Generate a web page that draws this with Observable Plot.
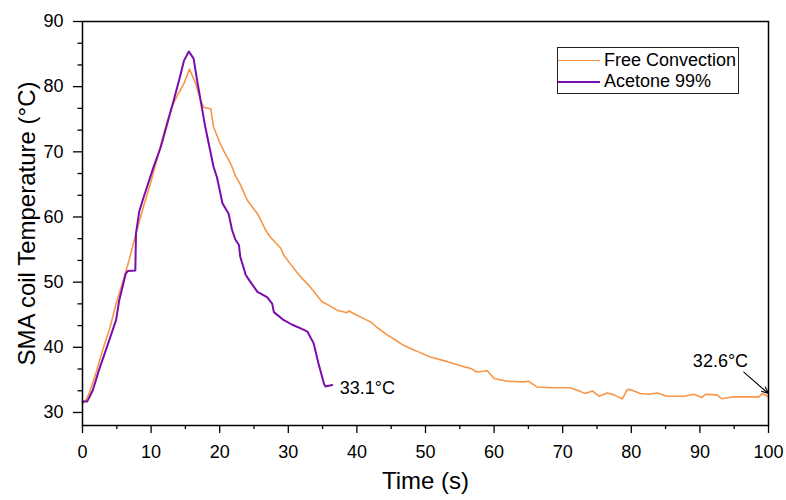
<!DOCTYPE html>
<html>
<head>
<meta charset="utf-8">
<script src="https://cdn.jsdelivr.net/npm/d3@7"></script>
<script src="https://cdn.jsdelivr.net/npm/@observablehq/plot@0.6"></script>
<style>
  body { margin: 0; background: #fff; font-family: "Liberation Sans", Arial, sans-serif; }
  #wrap { position: relative; width: 786px; height: 500px; }
  #legend { position: absolute; left: 557px; top: 47px; width: 182px; height: 47px; border: 1px solid #222; background: #fff; box-sizing: border-box; }
  .row { position: absolute; left: 0; height: 21px; display: flex; align-items: center; font-size: 18px; color: #000; white-space: nowrap; }
  .sw { width: 42px; margin-right: 4px; }
</style>
</head>
<body>
<div id="wrap"></div>
<script>
// Free Convection (orange)
const fcTime = [0,0.5,1.0,2.0,3.0,4.0,4.9,5.8,6.8,7.8,9.0,10.0,10.9,11.4,12.3,13.0,13.8,14.8,15.6,16.5,17.2,17.7,18.7,19.1,19.9,20.6,21.6,22.3,23.0,24.0,25.0,25.5,26.7,27.4,28.9,29.3,30.5,31.8,33.0,33.7,34.9,36.0,37.1,38.6,38.8,39.5,41.0,42.0,43.0,44.4,45.5,46.8,48.3,49.0,50.7,53.2,55.6,56.5,57.5,59.0,60.0,61.9,64.3,65.0,66.3,68.7,71.1,72.6,73.3,74.3,75.3,76.5,77.5,78.4,78.7,79.4,79.9,81.3,82.5,83.8,85.2,87.7,89.1,90.3,90.8,92.5,93.2,94.9,98.6,99.1,100];
const fcTemp = [31.4,31.9,33.0,36.2,39.8,43.0,46.7,49.8,53.4,57.5,62.0,65.5,69.0,71.0,74.5,76.8,78.6,80.5,82.7,80.5,77.9,76.8,76.6,73.8,71.7,70.1,68.2,66.3,65.0,62.6,61.2,60.5,58.0,56.9,55.2,54.2,52.5,50.8,49.5,48.6,47.0,46.4,45.7,45.3,45.6,45.2,44.4,43.9,43.0,41.9,41.2,40.3,39.6,39.3,38.5,37.8,37.0,36.8,36.2,36.4,35.2,34.8,34.7,34.8,33.9,33.8,33.8,33.2,32.9,33.3,32.5,33.0,32.7,32.2,32.1,33.5,33.5,32.9,32.8,33.0,32.5,32.5,32.8,32.3,32.8,32.7,32.1,32.4,32.4,32.9,32.4];
// Acetone 99% (purple)
const acTime = [0,0.7,1.5,2.4,3.9,4.9,5.35,6.3,6.6,7.7,7.8,8.26,8.75,9.4,10.4,11.4,12.4,13.3,14.2,14.8,15.5,16.2,16.7,17.9,19.1,19.6,20.4,21.3,21.8,22.3,22.8,23.0,23.8,24.5,25.5,26.9,27.65,27.9,29.3,30.5,31.8,32.8,33.7,34.4,35.2,35.4,36.4];
const acTemp = [31.7,31.7,33.4,36.5,41.1,44.2,47.2,51.3,51.7,51.8,57.5,60.8,62.5,64.6,67.8,70.7,74.5,77.9,81.5,84.0,85.4,84.3,81.0,73.8,67.7,66.1,62.1,60.5,58.0,56.5,55.7,53.9,51.1,50.0,48.5,47.7,46.7,45.4,44.2,43.5,42.9,42.4,40.6,37.5,34.4,34.0,34.2];

const seriesNames = ["Free Convection", "Acetone 99%"];
const seriesColors = ["#f79646", "#7a0dad"];
const seriesWidths = [1.6, 2];

const xMajor = [0,10,20,30,40,50,60,70,80,90,100];
const xMinor = [5,15,25,35,45,55,65,75,85,95];
const yMajor = [30,40,50,60,70,80,90];
const yMinor = [33.33,36.67,43.33,46.67,53.33,56.67,63.33,66.67,73.33,76.67,83.33,86.67];

const xTitle = "Time (s)";
const yTitle = "SMA coil Temperature (°C)";

// annotations
const acNote = {text: "33.1°C", x: 37.5, y: 33.7};
const fcNote = {text: "32.6°C", x: 93.0, y: 37.9};
const arrowFrom = {x: 96.4, y: 36.2};
const arrowTo = {x: 100, y: 32.9};

const fc = fcTime.map((t, i) => ({t, v: fcTemp[i]}));
const ac = acTime.map((t, i) => ({t, v: acTemp[i]}));

const chart = Plot.plot({
  width: 786,
  height: 500,
  marginLeft: 82,
  marginRight: 18,
  marginTop: 21,
  marginBottom: 75,
  style: {fontFamily: "'Liberation Sans', Arial, sans-serif", background: "#fff", color: "#000"},
  x: {domain: [0, 100]},
  y: {domain: [28, 90]},
  marks: [
    Plot.axisX(xMinor, {tickSize: 4, fill: "none", label: null, strokeWidth: 1.3}),
    Plot.axisX(xMajor, {tickSize: 8, tickPadding: 12, fontSize: 18, label: null, strokeWidth: 1.3}),
    Plot.axisY(yMinor, {tickSize: 4.5, fill: "none", label: null, strokeWidth: 1.3}),
    Plot.axisY(yMajor, {tickSize: 9, tickPadding: 10, fontSize: 18, label: null, strokeWidth: 1.3}),
    Plot.line(fc, {x: "t", y: "v", stroke: seriesColors[0], strokeWidth: seriesWidths[0]}),
    Plot.line(ac, {x: "t", y: "v", stroke: seriesColors[1], strokeWidth: seriesWidths[1]}),
    Plot.text([acNote], {x: "x", y: "y", text: "text", textAnchor: "start", fontSize: 18, fill: "#000"}),
    Plot.text([fcNote], {x: "x", y: "y", text: "text", textAnchor: "middle", fontSize: 18, fill: "#000"}),
    Plot.arrow([{x1: arrowFrom.x, y1: arrowFrom.y, x2: arrowTo.x, y2: arrowTo.y}], {x1: "x1", y1: "y1", x2: "x2", y2: "y2", stroke: "#000", strokeWidth: 1.1, headLength: 10, headAngle: 45, bend: 0}),
    Plot.frame({stroke: "#000", strokeWidth: 1.5}),
    Plot.text([xTitle], {frameAnchor: "bottom", dy: 63, fontSize: 24, fill: "#000", textAnchor: "middle"}),
    Plot.text([yTitle], {frameAnchor: "left", dx: -55, rotate: -90, fontSize: 24, fill: "#000", textAnchor: "middle"})
  ]
});

const wrap = document.getElementById("wrap");
wrap.appendChild(chart);

const legend = document.createElement("div");
legend.id = "legend";
seriesNames.forEach((name, i) => {
  const row = document.createElement("div");
  row.className = "row";
  row.style.top = (2 + i * 21) + "px";
  const sw = document.createElement("span");
  sw.className = "sw";
  sw.style.height = seriesWidths[i] + "px";
  sw.style.background = seriesColors[i];
  const tx = document.createElement("span");
  tx.textContent = name;
  row.appendChild(sw);
  row.appendChild(tx);
  legend.appendChild(row);
});
wrap.appendChild(legend);
</script>
</body>
</html>
